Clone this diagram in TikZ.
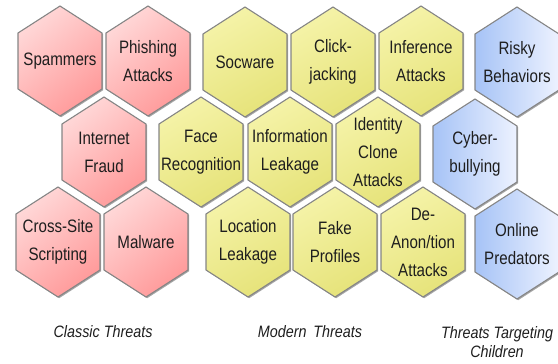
\documentclass[tikz,border=0pt]{standalone}
\usepackage{fontspec}
\usetikzlibrary{shadows}
\newfontfamily\hxfont[FakeStretch=0.84]{Liberation Sans}
\newfontfamily\capfont[FakeStretch=0.87]{Liberation Sans}
\definecolor{hexborder}{HTML}{858585}
\definecolor{pinkA}{HTML}{FFD8D8}
\definecolor{pinkB}{HTML}{FF9A9A}
\definecolor{yelA}{HTML}{F5F3A8}
\definecolor{yelB}{HTML}{E6E37A}
\definecolor{bluA}{HTML}{A6C3F6}
\definecolor{bluB}{HTML}{EDF2FF}
\definecolor{txt}{HTML}{1E1E1E}
\tikzset{
  hexbase/.style={draw=hexborder, line width=1.1pt, line join=miter,
    drop shadow={shadow xshift=1.2pt, shadow yshift=-1.2pt, opacity=0.35, fill=black}},
  pinkhex/.style={hexbase, shading=axis, top color=pinkA, bottom color=pinkB, shading angle=40},
  yelhex/.style={hexbase, shading=axis, top color=yelA, bottom color=yelB, shading angle=30},
  bluhex/.style={hexbase, shading=axis, left color=bluA, right color=bluB},
  hextext/.style={text=txt, align=center, inner sep=0pt,
    font=\hxfont\fontsize{18}{28}\selectfont},
  captext/.style={text=txt, align=center, inner sep=0pt,
    font=\capfont\itshape\fontsize{16.5}{19}\selectfont}
}
\newcommand\hx[5]{%
  \path[#3, shift={(#1,#2)}] (0,-55) -- (42,-28) -- (42,28) -- (0,55) -- (-42,28) -- (-42,-28) -- cycle;
  \node[hextext] (#4) at (#1,#2) {#5};
}
\begin{document}
\begin{tikzpicture}[x=1pt,y=-1pt]
\useasboundingbox (0,0) rectangle (558,364);
% pink
\hx{60}{61}{pinkhex}{spam}{Spammers}
\hx{148}{61}{pinkhex}{phish}{Phishing\\Attacks}
\hx{104}{152}{pinkhex}{fraud}{Internet\\Fraud}
\hx{58}{242}{pinkhex}{xss}{Cross-Site\\Scripting}
\hx{146}{242}{pinkhex}{malw}{Malware}
% yellow
\hx{245}{62}{yelhex}{socw}{Socware}
\hx{333}{62}{yelhex}{click}{Click-\\jacking}
\hx{421}{61}{yelhex}{infer}{Inference\\Attacks}
\hx{201}{152}{yelhex}{face}{Face\\Recognition}
\hx{290}{152}{yelhex}{info}{Information\\Leakage}
\hx{378}{152}{yelhex}{ident}{Identity\\Clone\\Attacks}
\hx{248}{242}{yelhex}{loc}{Location\\Leakage}
\hx{335}{242}{yelhex}{fake}{Fake\\Profiles}
\hx{423}{242}{yelhex}{deanon}{De-\\Anon/tion\\Attacks}
% blue
\hx{517}{62}{bluhex}{risky}{Risky\\Behaviors}
\hx{475}{154}{bluhex}{cyber}{Cyber-\\bullying}
\hx{517}{244}{bluhex}{pred}{Online\\Predators}
% captions
\node[captext] (cap1) at (103,332) {Classic Threats};
\node[captext] (cap2) at (310,332) {Modern\, Threats};
\node[captext, font=\capfont\itshape\fontsize{16.5}{19}\selectfont] (cap3) at (497,342) {Threats Targeting\\Children};
\end{tikzpicture}
\end{document}
